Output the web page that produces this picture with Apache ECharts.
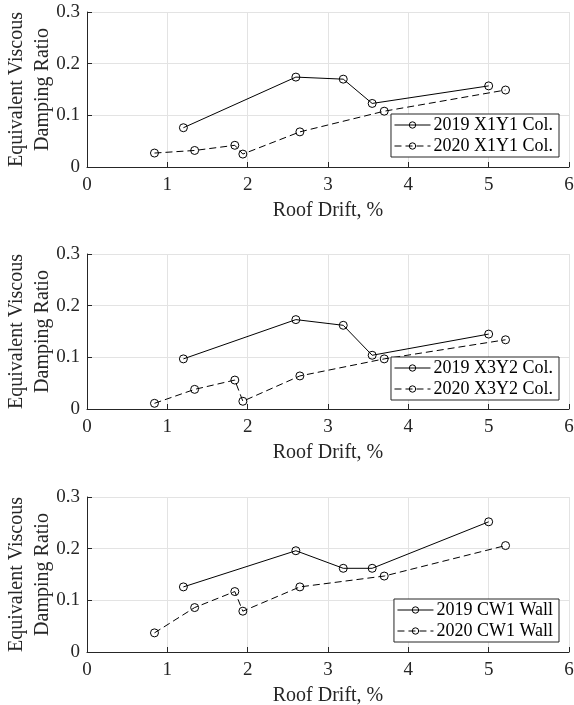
<!DOCTYPE html>
<html>
<head>
<meta charset="utf-8">
<script src="https://cdn.jsdelivr.net/npm/echarts@6/dist/echarts.min.js"></script>
<style>
  html, body { margin: 0; padding: 0; background: #fff; }
  #chart { width: 574px; height: 705px; }
</style>
</head>
<body>
<div id="chart"></div>
<script>
// 读图得到的数据 (roof drift %, damping ratio)
const drift2019 = [1.20, 2.60, 3.19, 3.55, 5.00];
const drift2020 = [0.84, 1.34, 1.84, 1.94, 2.65, 3.70, 5.21];

const x1y1_2019 = [0.076, 0.174, 0.170, 0.123, 0.157];
const x1y1_2020 = [0.027, 0.032, 0.042, 0.025, 0.068, 0.108, 0.149];

const x3y2_2019 = [0.097, 0.173, 0.162, 0.104, 0.145];
const x3y2_2020 = [0.011, 0.038, 0.056, 0.015, 0.064, 0.097, 0.134];

const cw1_2019 = [0.126, 0.196, 0.162, 0.162, 0.252];
const cw1_2020 = [0.037, 0.086, 0.117, 0.079, 0.126, 0.147, 0.206];

const panelNames = [
    ['2019 X1Y1 Col.', '2020 X1Y1 Col.'],
    ['2019 X3Y2 Col.', '2020 X3Y2 Col.'],
    ['2019 CW1 Wall', '2020 CW1 Wall']
];
const panelData = [
    [x1y1_2019, x1y1_2020],
    [x3y2_2019, x3y2_2020],
    [cw1_2019, cw1_2020]
];

const xTicks = [0, 1, 2, 3, 4, 5, 6];
const yTicks = [0, 0.1, 0.2, 0.3];

const font = 'Liberation Serif';
const gridTops = [12, 254, 497];
const legendTops = [114, 357, 599];

function pairs (xs, ys) {
    return xs.map((x, i) => [x, ys[i]]);
}

const chart = echarts.init(document.getElementById('chart'));

const grids = [], xAxes = [], yAxes = [], series = [], legends = [];

gridTops.forEach((top, k) => {
    grids.push({ left: 87, right: 5, top: top, height: 155, containLabel: false, outerBoundsMode: 'none' });
    xAxes.push({
        type: 'value',
        gridIndex: k,
        min: xTicks[0],
        max: xTicks[xTicks.length - 1],
        interval: 1,
        name: 'Roof Drift, %',
        nameLocation: 'middle',
        nameGap: 34,
        nameMoveOverlap: false,
        nameTextStyle: { fontFamily: font, fontSize: 20, color: '#262626' },
        axisLine: { show: true, onZero: false, lineStyle: { color: '#262626', width: 1 } },
        axisTick: { show: true, inside: true, length: 5, lineStyle: { color: '#262626' } },
        axisLabel: { fontFamily: font, fontSize: 19, color: '#262626', margin: 9 },
        splitLine: { show: true, lineStyle: { color: '#e3e3e3', width: 1 } }
    });
    yAxes.push({
        type: 'value',
        gridIndex: k,
        min: yTicks[0],
        max: yTicks[yTicks.length - 1],
        interval: 0.1,
        name: 'Equivalent Viscous\nDamping Ratio',
        nameLocation: 'middle',
        nameGap: 31,
        nameMoveOverlap: false,
        nameTextStyle: { fontFamily: font, fontSize: 20, color: '#262626', lineHeight: 26 },
        axisLine: { show: true, lineStyle: { color: '#262626', width: 1 } },
        axisTick: { show: true, inside: true, length: 5, lineStyle: { color: '#262626' } },
        axisLabel: { fontFamily: font, fontSize: 19, color: '#262626', margin: 7 },
        splitLine: { show: true, lineStyle: { color: '#e3e3e3', width: 1 } }
    });

    const [d19, d20] = panelData[k];
    series.push({
        name: panelNames[k][0],
        type: 'line',
        xAxisIndex: k,
        yAxisIndex: k,
        data: pairs(drift2019, d19),
        symbol: 'circle',
        symbolSize: 8,
        itemStyle: { color: 'rgba(0,0,0,0)', borderColor: '#000', borderWidth: 1 },
        lineStyle: { color: '#000', width: 1, type: 'solid' },
        animation: false
    });
    series.push({
        name: panelNames[k][1],
        type: 'line',
        xAxisIndex: k,
        yAxisIndex: k,
        data: pairs(drift2020, d20),
        symbol: 'circle',
        symbolSize: 8,
        itemStyle: { color: 'rgba(0,0,0,0)', borderColor: '#000', borderWidth: 1 },
        lineStyle: { color: '#000', width: 1, type: [7, 4] },
        animation: false
    });

    legends.push({
        data: panelNames[k],
        orient: 'vertical',
        right: 15,
        top: legendTops[k],
        backgroundColor: '#fff',
        borderColor: '#262626',
        borderWidth: 1,
        borderRadius: 0,
        padding: [2, 6, 2, 3],
        itemGap: 3,
        itemWidth: 36,
        itemHeight: 8,
        lineStyle: { width: 1 },
        itemStyle: { borderWidth: 1 },
        textStyle: { fontFamily: font, fontSize: 18, color: '#000', padding: [0, 0, 0, -2] }
    });
});

chart.setOption({
    backgroundColor: '#fff',
    animation: false,
    grid: grids,
    xAxis: xAxes,
    yAxis: yAxes,
    legend: legends,
    series: series
});
</script>
</body>
</html>
